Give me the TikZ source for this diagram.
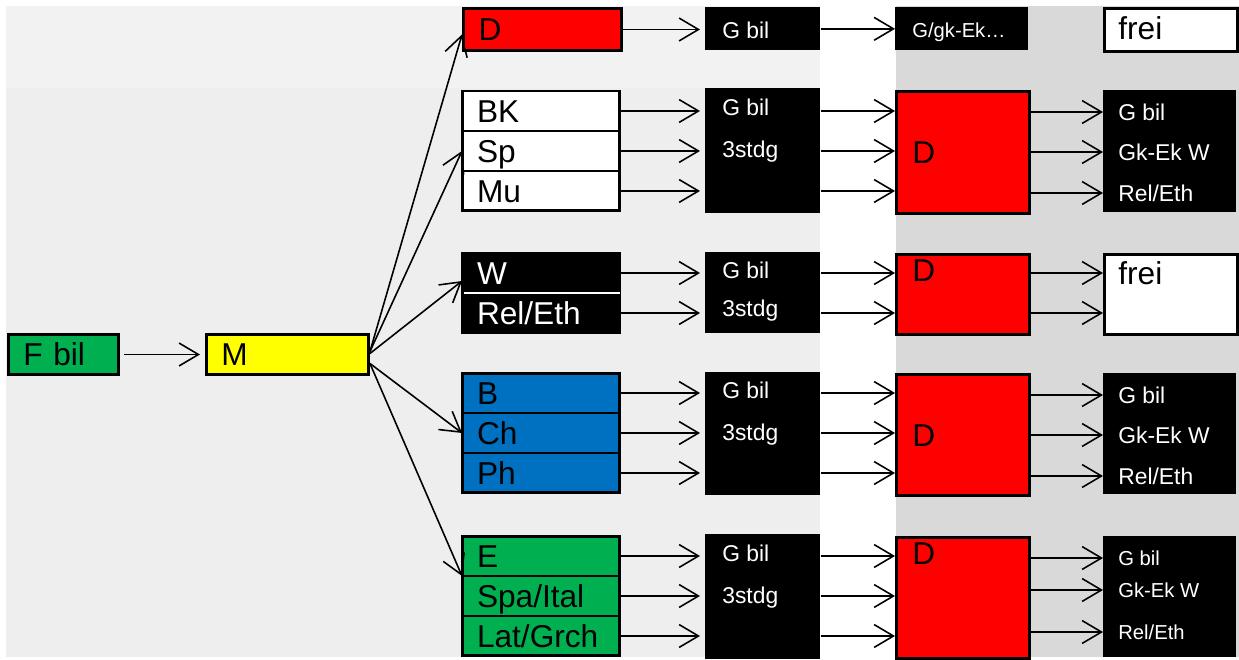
\documentclass[tikz,border=0pt]{standalone}
\usepackage{fontspec}
\setmainfont{Liberation Sans}
\usetikzlibrary{arrows.meta,positioning}

\definecolor{rotD}{HTML}{FF0000}
\definecolor{gelbM}{HTML}{FFFF00}
\definecolor{gruenF}{HTML}{00B050}
\definecolor{blauB}{HTML}{0070C0}
\definecolor{grauA}{HTML}{F2F2F2}
\definecolor{grauB}{HTML}{EEEEEE}
\definecolor{grauC}{HTML}{D9D9D9}

\newcommand\fgross{\fontsize{18}{21}\selectfont}
\newcommand\fmittel{\fontsize{13}{15}\selectfont}
\newcommand\fklein{\fontsize{11.5}{13}\selectfont}

\begin{document}
\begin{tikzpicture}[x=0.02cm, y=-0.02cm,
	pfeil/.style={-{Straight Barb[length=11pt,width=13pt]}, line width=0.9pt},
	kasten/.style={rectangle, draw, line width=1.7pt, anchor=north west,
		inner xsep=0.3cm, inner ysep=0pt, align=left, font=\fgross,
		text height=12.9pt, text depth=0pt},
	zeile/.style={rectangle, draw, line width=0.9pt, anchor=north west, outer sep=0pt,
		minimum width=3.16cm, minimum height=0.8cm, text width=2.56cm,
		inner xsep=0.3cm, inner ysep=0pt, align=left, font=\fgross,
		text height=12.9pt, text depth=0pt},
	schwarz/.style={rectangle, fill=black, anchor=north west, inner sep=0pt},
	gross/.style={anchor=west, inner sep=0pt, font=\fgross, text height=12.9pt, text depth=0pt},
	mittel/.style={anchor=west, inner sep=0pt, font=\fmittel, text height=9.3pt, text depth=0pt, white},
	klein/.style={anchor=west, inner sep=0pt, font=\fklein, text height=8.2pt, text depth=0pt, white}]

	\useasboundingbox (0,0) rectangle (1239,659);

	% 背景
	\fill[grauA] (6,6) rectangle (820,88);
	\fill[grauB] (6,88) rectangle (820,657);
	\fill[grauC] (896,6) rectangle (1239,657);

	% F bil 与 M
	\node[kasten, fill=gruenF, minimum width=2.2cm, minimum height=0.8cm, text width=1.6cm] (fbil) at (7,333) {F bil};
	\node[kasten, fill=gelbM, minimum width=3.24cm, minimum height=0.8cm, text width=2.64cm] (M) at (205,333) {M};
	\draw[pfeil, shorten <=0.08cm, shorten >=0.1cm] (fbil.east) -- (M.west);

	% 第一列
	\node[kasten, fill=rotD, minimum width=3.16cm, minimum height=0.84cm, text width=2.56cm] (d1) at (462,7) {D};

	\node[zeile, fill=white] (bk) at (462,91) {BK};
	\node[zeile, fill=white, below=0pt of bk] (sp) {Sp};
	\node[zeile, fill=white, below=0pt of sp] (mu) {Mu};
	\draw[line width=1.7pt] (bk.north west) rectangle (mu.south east);

	\node[zeile, fill=black, text=white] (w) at (462,253) {W};
	\node[zeile, fill=black, text=white, below=0pt of w] (rel) {Rel/Eth};
	\draw[white, line width=1.5pt] ([xshift=1pt]w.south west) -- (w.south east);

	\node[zeile, fill=blauB] (b) at (462,373) {B};
	\node[zeile, fill=blauB, below=0pt of b] (ch) {Ch};
	\node[zeile, fill=blauB, below=0pt of ch] (ph) {Ph};
	\draw[line width=1.7pt] (b.north west) rectangle (ph.south east);

	\node[zeile, fill=gruenF] (e) at (462,536) {E};
	\node[zeile, fill=gruenF, below=0pt of e] (spa) {Spa/Ital};
	\node[zeile, fill=gruenF, below=0pt of spa] (lat) {Lat/Grch};
	\draw[line width=1.7pt] (e.north west) rectangle (lat.south east);

	% M 到第一列
	\draw[pfeil] ([yshift=0.06cm]M.east) -- ([yshift=-0.1cm]d1.west);
	\draw[pfeil] ([yshift=0.06cm]M.east) -- (sp.west);
	\draw[pfeil] ([yshift=0.02cm]M.east) -- ([yshift=0.24cm]w.south west);
	\draw[pfeil] ([yshift=-0.18cm]M.east) -- (ch.west);
	\draw[pfeil] ([yshift=-0.18cm]M.east) -- (spa.north west);

	% 第二列
	\node[schwarz, minimum width=2.3cm, minimum height=0.86cm] (g1) at (705,7) {};
	\node[schwarz, minimum width=2.3cm, minimum height=2.5cm] (g2) at (705,88) {};
	\node[schwarz, minimum width=2.3cm, minimum height=1.62cm] (g3) at (705,252) {};
	\node[schwarz, minimum width=2.3cm, minimum height=2.46cm] (g4) at (705,372) {};
	\node[schwarz, minimum width=2.3cm, minimum height=2.5cm] (g5) at (705,534) {};

	\node[mittel] (g1a) at (722,30) {G bil};
	\node[mittel] (g2a) at (722,107) {G bil};
	\node[mittel] (g2b) at (722,149) {3stdg};
	\node[mittel] (g3a) at (722,270) {G bil};
	\node[mittel] (g3b) at (722,308) {3stdg};
	\node[mittel] (g4a) at (722,390) {G bil};
	\node[mittel] (g4b) at (722,432) {3stdg};
	\node[mittel] (g5a) at (722,553) {G bil};
	\node[mittel] (g5b) at (722,595) {3stdg};

	% 第三列
	\node[schwarz, minimum width=2.66cm, minimum height=0.86cm] (gk) at (895,7) {};
	\node[klein] (gkt) at (912,30) {G/gk-Ek…};
	\node[kasten, fill=rotD, minimum width=2.66cm, minimum height=2.44cm] (d2) at (895,90) {};
	\node[kasten, fill=rotD, minimum width=2.66cm, minimum height=1.6cm] (d3) at (895,253) {};
	\node[kasten, fill=rotD, minimum width=2.66cm, minimum height=2.42cm] (d4) at (895,373) {};
	\node[kasten, fill=rotD, minimum width=2.66cm, minimum height=2.42cm] (d5) at (895,536) {};
	\node[gross] (d2t) at (912,152) {D};
	\node[gross] (d3t) at (912,270) {D};
	\node[gross] (d4t) at (912,435) {D};
	\node[gross] (d5t) at (912,553) {D};

	% 第四列
	\node[kasten, fill=white, minimum width=2.66cm, minimum height=0.86cm] (f1) at (1103,7) {};
	\node[gross] (f1t) at (1118,28) {frei};
	\node[schwarz, minimum width=2.66cm, minimum height=2.44cm] (v2) at (1103,90) {};
	\node[mittel] (v2a) at (1118,112) {G bil};
	\node[mittel] (v2b) at (1118,152) {Gk-Ek W};
	\node[mittel] (v2c) at (1118,193) {Rel/Eth};
	\node[kasten, fill=white, minimum width=2.66cm, minimum height=1.6cm] (f3) at (1103,253) {};
	\node[gross] (f3t) at (1118,273) {frei};
	\node[schwarz, minimum width=2.66cm, minimum height=2.42cm] (v4) at (1103,373) {};
	\node[mittel] (v4a) at (1118,395) {G bil};
	\node[mittel] (v4b) at (1118,435) {Gk-Ek W};
	\node[mittel] (v4c) at (1118,476) {Rel/Eth};
	\node[schwarz, minimum width=2.66cm, minimum height=2.42cm] (v5) at (1103,536) {};
	\node[klein] (v5a) at (1118,558) {G bil};
	\node[klein] (v5b) at (1118,590) {Gk-Ek W};
	\node[klein] (v5c) at (1118,632) {Rel/Eth};

	% 箭头
	\foreach \a/\b in {d1/g1, bk/g2, sp/g2, mu/g2, w/g3, rel/g3, b/g4, ch/g4, ph/g4, e/g5, spa/g5, lat/g5}
		\draw[pfeil, shorten >=0.1cm] (\a.east) -- (\a.east -| \b.west);
	\draw[pfeil] (g1.east) -- (gk.west);
	\foreach \a/\b/\c in {bk/g2/d2, sp/g2/d2, mu/g2/d2, w/g3/d3, rel/g3/d3, b/g4/d4, ch/g4/d4, ph/g4/d4, e/g5/d5, spa/g5/d5, lat/g5/d5}
		\draw[pfeil] (\a.east -| \b.east) -- (\a.east -| \c.west);
	\foreach \a/\b/\c in {v2a/d2/v2, v2b/d2/v2, v2c/d2/v2, w/d3/f3, rel/d3/f3, v4a/d4/v4, v4b/d4/v4, v4c/d4/v4, v5a/d5/v5, v5b/d5/v5, v5c/d5/v5}
		\draw[pfeil] (\a.west -| \b.east) -- (\a.west -| \c.west);
\end{tikzpicture}
\end{document}
